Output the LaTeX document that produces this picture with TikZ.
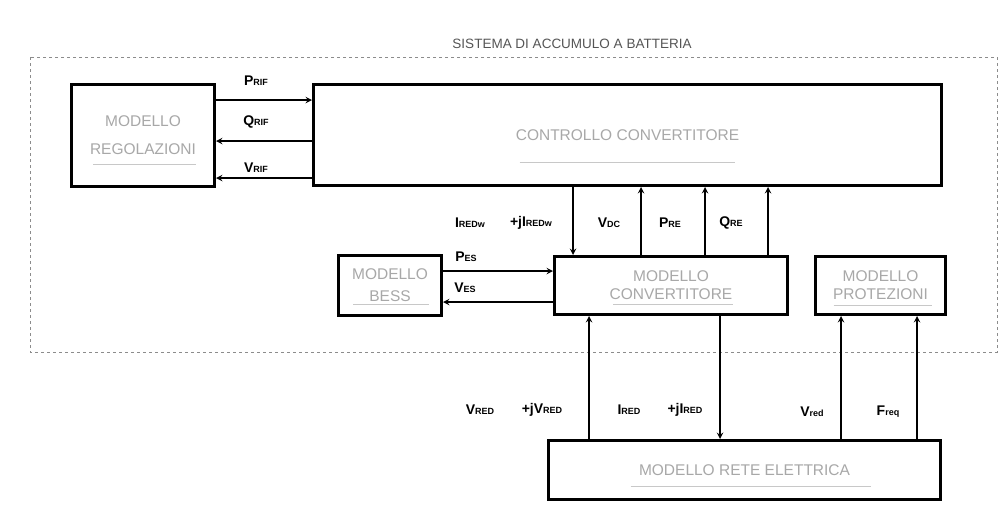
\documentclass[tikz,border=0pt]{standalone}
\usepackage{fontspec}
\setmainfont{Liberation Sans}
\usetikzlibrary{positioning}
\definecolor{boxgray}{HTML}{A8A8A8}
\definecolor{rulegray}{HTML}{C8C8C8}
\definecolor{titlegray}{HTML}{555555}
\definecolor{framegray}{HTML}{8C8C8C}
\newcommand{\sig}[2]{#1{\fontsize{9}{9}\selectfont #2}}

\begin{document}
\begin{tikzpicture}[
  x=1pt, y=-1pt,
  box/.style={rectangle, draw=black, line width=3pt, fill=white, inner sep=0pt, anchor=north west, align=center, text=boxgray, font=\fontsize{15.5}{18}\selectfont},
  sig/.style={font=\fontsize{14}{15}\selectfont\bfseries, inner sep=0pt},
  arrow/.style={->, >=stealth, line width=1.8pt},
  ulbar/.style={draw=rulegray, line width=0.8pt}
]
\useasboundingbox (0,0) rectangle (1003,520);

% battery system frame
\draw[framegray, dashed, line width=0.8pt] (30,57) rectangle (997,352);
\node[text=titlegray, font=\fontsize{13.5}{15}\selectfont] (title) at (572,44) {SISTEMA DI ACCUMULO A BATTERIA};

% blocks
\node[box, minimum width=143pt, minimum height=102pt] (reg) at (70,83) {MODELLO\\[10pt]REGOLAZIONI};
\node[box, minimum width=628pt, minimum height=101pt] (ctrl) at (312,83) {CONTROLLO CONVERTITORE};
\node[box, minimum width=103pt, minimum height=60pt] (bess) at (337,254) {MODELLO\\[4pt]BESS};
\node[box, minimum width=233pt, minimum height=58pt] (conv) at (553,255) {MODELLO\\CONVERTITORE};
\node[box, minimum width=130pt, minimum height=58pt] (prot) at (814,255) {MODELLO\\PROTEZIONI};
\node[box, minimum width=392pt, minimum height=59pt] (rete) at (547,439) {MODELLO RETE ELETTRICA};

% underlines
\draw[ulbar] ([shift={(-50,29)}]reg.center) -- ++(103,0);
\draw[ulbar] ([shift={(-108,27)}]ctrl.center) -- ++(215,0);
\draw[ulbar] ([shift={(-37,19)}]bess.center) -- ++(76,0);
\draw[ulbar] ([shift={(-58,19)}]conv.center) -- ++(120,0);
\draw[ulbar] ([shift={(-47,20)}]prot.center) -- ++(98,0);
\draw[ulbar] ([shift={(-114,16)}]rete.center) -- ++(240,0);

% line positions
\coordinate (yp) at (0,100);
\coordinate (yq) at (0,141);
\coordinate (yv) at (0,178);
\coordinate (ype) at (0,271);
\coordinate (yve) at (0,302);
\coordinate (xi) at (573,0);
\coordinate (xdc) at (641,0);
\coordinate (xpr) at (705,0);
\coordinate (xqr) at (768,0);
\coordinate (xvr) at (589,0);
\coordinate (xir) at (720,0);
\coordinate (xvn) at (841,0);
\coordinate (xfr) at (917,0);

% connectors
\draw[arrow] (reg.east |- yp) -- (ctrl.west |- yp);
\draw[arrow] (ctrl.west |- yq) -- (reg.east |- yq);
\draw[arrow] (ctrl.west |- yv) -- (reg.east |- yv);
\draw[arrow] (ctrl.south -| xi) -- (conv.north -| xi);
\draw[arrow] (conv.north -| xdc) -- (ctrl.south -| xdc);
\draw[arrow] (conv.north -| xpr) -- (ctrl.south -| xpr);
\draw[arrow] (conv.north -| xqr) -- (ctrl.south -| xqr);
\draw[arrow] (bess.east |- ype) -- (conv.west |- ype);
\draw[arrow] (conv.west |- yve) -- (bess.east |- yve);
\draw[arrow] (rete.north -| xvr) -- (conv.south -| xvr);
\draw[arrow] (conv.south -| xir) -- (rete.north -| xir);
\draw[arrow] (rete.north -| xvn) -- (prot.south -| xvn);
\draw[arrow] (rete.north -| xfr) -- (prot.south -| xfr);

% signal labels
\node[sig] (prif) at (256,81) {\sig{P}{RIF}};
\node[sig] (qrif) at (256,122) {\sig{Q}{RIF}};
\node[sig] (vrif) at (256,168) {\sig{V}{RIF}};
\node[sig] (ired) at (470,223) {\sig{I}{REDw}};
\node[sig] (jired) at (531,223) {+j\sig{I}{REDw}};
\node[sig] (vdc) at (609,223) {\sig{V}{DC}};
\node[sig] (pre) at (670,223) {\sig{P}{RE}};
\node[sig] (qre) at (731,223) {\sig{Q}{RE}};
\node[sig] (pes) at (466,257) {\sig{P}{ES}};
\node[sig] (ves) at (465,288) {\sig{V}{ES}};
\node[sig] (vred) at (480,410) {\sig{V}{RED}};
\node[sig] (jvred) at (542,410) {+j\sig{V}{RED}};
\node[sig] (igrid) at (629,410) {\sig{I}{RED}};
\node[sig] (jigrid) at (685,410) {+j\sig{I}{RED}};
\node[sig] (vnod) at (812,412) {\sig{V}{red}};
\node[sig] (freq) at (888,412) {\sig{F}{req}};
\end{tikzpicture}
\end{document}
